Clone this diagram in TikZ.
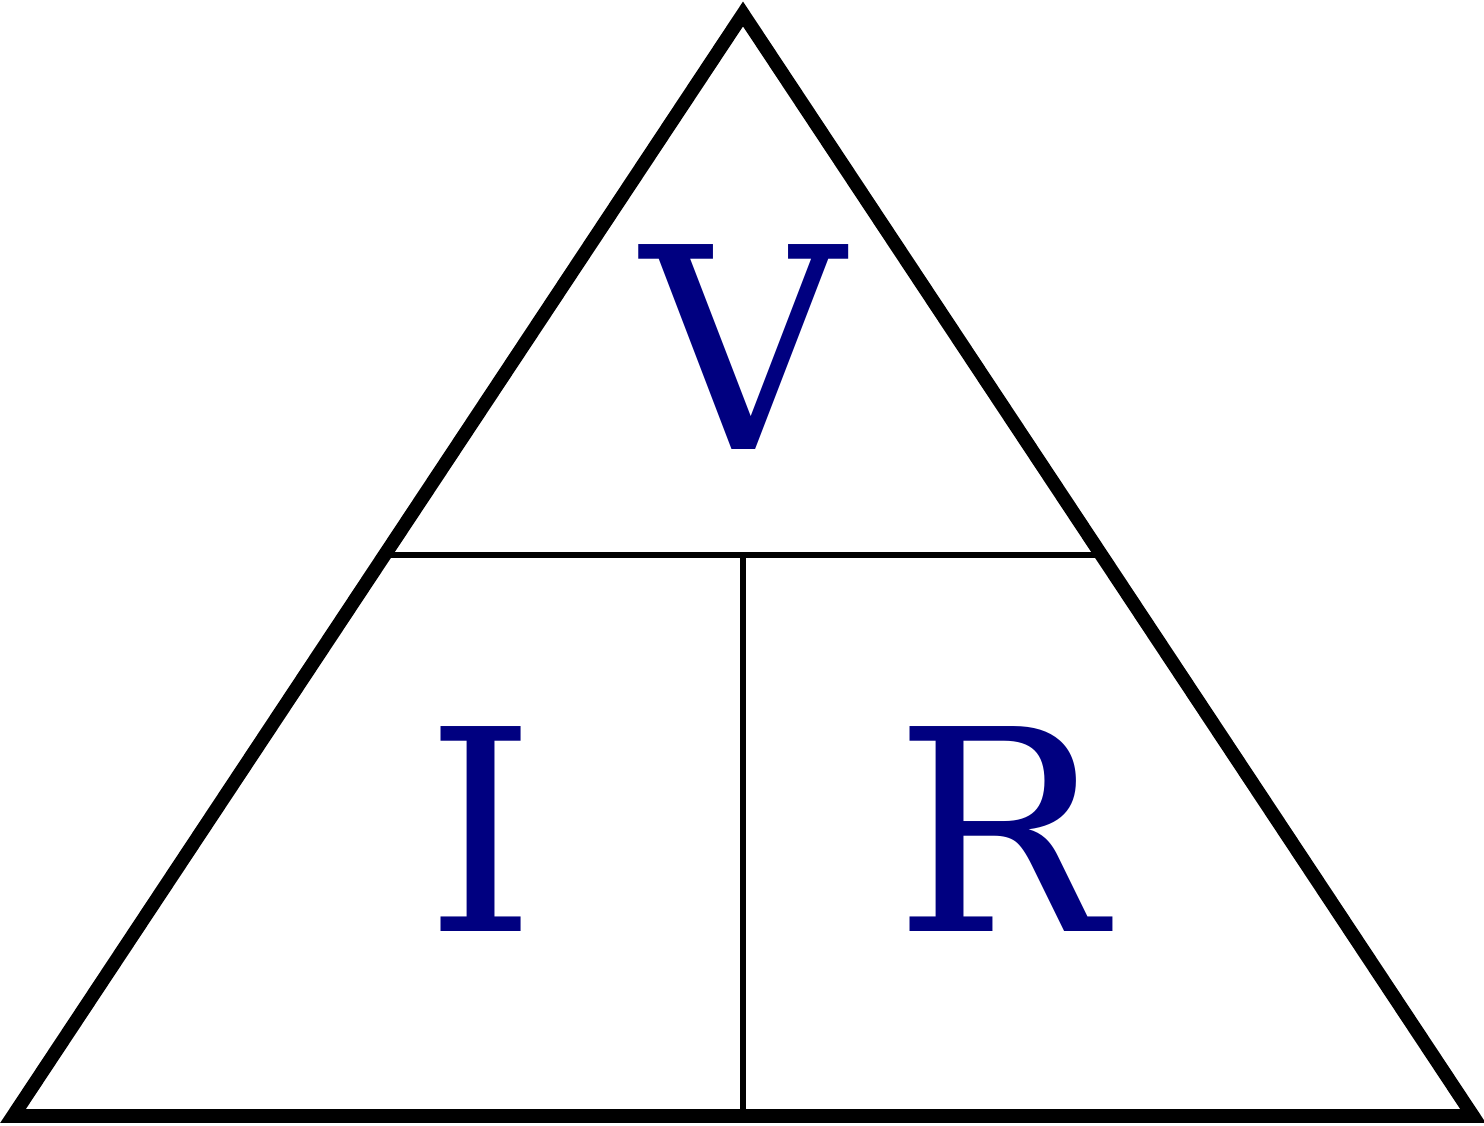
\documentclass[tikz,border=0pt]{standalone}
\usepackage{fontspec}
\setmainfont{DejaVu Serif}
\definecolor{ohmblue}{RGB}{0,0,128}
\begin{document}
\begin{tikzpicture}[outline/.style={line width=3.9pt, line join=miter},
        divider/.style={line width=1.8pt},
        letter/.style={anchor=base, inner sep=0pt, text=ohmblue, font=\fontsize{80}{96}\selectfont}]
        \useasboundingbox (0,0) rectangle (14.84,11.26);
        \coordinate (top) at (7.43,11.12);
        \coordinate (bl) at (0.13,0.10);
        \coordinate (br) at (14.73,0.10);
        \coordinate (ml) at (3.843,5.71);
        \coordinate (mr) at (11.017,5.71);
        \coordinate (mm) at (7.43,5.71);
        \coordinate (mb) at (7.43,0.10);
        \draw[divider] (ml)--(mr);
        \draw[divider] (mm)--(mb);
        \draw[outline] (bl)--(br)--(top)--cycle;
        \node[letter] (v) at (7.43,6.76) {V};
        \node[letter] (i) at (4.815,1.94) {I};
        \node[letter] (r) at (10.005,1.94) {R};
    \end{tikzpicture}
\end{document}
